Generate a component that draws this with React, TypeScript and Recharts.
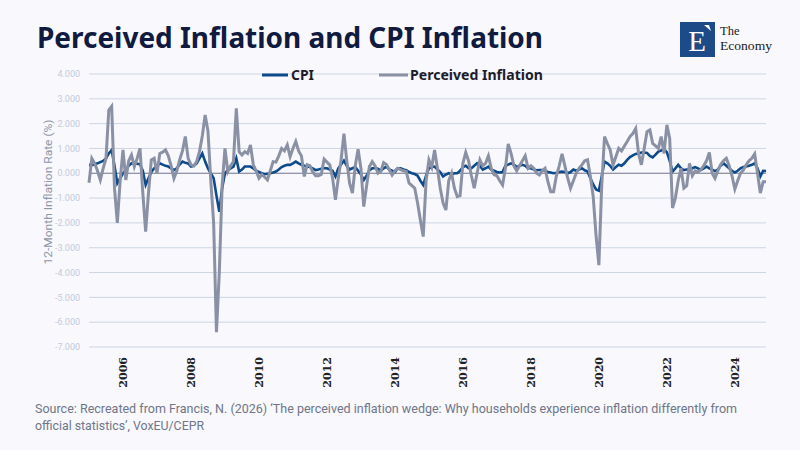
import React from 'react';
import { LineChart, Line, XAxis, YAxis, CartesianGrid, ReferenceLine } from 'recharts';

// monthly values, Jan 2005 .. Dec 2024, one row per year
const CPI = [
  0.34, 0.33, 0.36, 0.4, 0.45, 0.5, 0.6, 0.8, 0.94, 0.3, -0.4, -0.2,
  0.0, 0.13, 0.3, 0.4, 0.4, 0.38, 0.36, 0.1, -0.47, -0.2, 0.05, 0.2,
  0.3, 0.4, 0.35, 0.3, 0.27, 0.2, 0.13, 0.2, 0.35, 0.47, 0.42, 0.4,
  0.27, 0.3, 0.4, 0.6, 0.8, 0.47, 0.2, 0.0, -0.2, -0.9, -1.55, -0.6,
  0.0, 0.13, 0.2, 0.27, 0.6, 0.07, 0.15, 0.27, 0.27, 0.27, 0.2, 0.1,
  0.05, 0.0, -0.04, -0.02, 0.0, 0.03, 0.07, 0.15, 0.25, 0.3, 0.34, 0.34,
  0.4, 0.47, 0.4, 0.34, 0.3, 0.27, 0.25, 0.2, 0.13, 0.15, 0.18, 0.2,
  0.2, 0.15, 0.1, -0.13, 0.2, 0.35, 0.51, 0.3, 0.15, 0.2, 0.25, 0.1,
  -0.05, -0.27, -0.1, 0.13, 0.2, 0.2, 0.18, 0.1, 0.2, 0.27, 0.15, 0.1,
  0.05, 0.2, 0.2, 0.15, 0.12, 0.05, 0.0, -0.03, -0.1, -0.3, -0.47, -0.1,
  0.2, 0.25, 0.27, 0.15, 0.05, -0.13, -0.05, 0.0, -0.05, 0.0, 0.0, 0.1,
  0.25, 0.3, 0.2, 0.2, 0.3, 0.4, 0.3, 0.15, 0.2, 0.27, 0.15, 0.1,
  0.05, 0.03, 0.05, 0.3, 0.35, 0.4, 0.35, 0.25, 0.3, 0.34, 0.3, 0.2,
  0.2, 0.15, 0.12, 0.13, 0.13, 0.1, 0.05, 0.03, 0.0, 0.02, 0.05, 0.07,
  0.05, 0.0, 0.05, 0.15, 0.1, 0.15, 0.2, 0.12, 0.07, -0.2, -0.45, -0.65,
  -0.7, -0.13, 0.47, 0.4, 0.3, 0.15, 0.25, 0.34, 0.3, 0.4, 0.54, 0.65,
  0.72, 0.78, 0.8, 0.84, 0.84, 0.82, 0.7, 0.64, 0.75, 0.87, 0.92, 0.97,
  0.85, 0.5, 0.07, 0.2, 0.34, 0.2, 0.13, 0.15, 0.15, 0.2, 0.25, 0.2,
  0.13, 0.2, 0.27, 0.2, 0.15, 0.09, 0.15, 0.3, 0.4, 0.3, 0.2, 0.1,
  0.03, 0.1, 0.2, 0.25, 0.27, 0.3, 0.34, 0.4, 0.2, -0.13, 0.1, 0.09,
];

const PERCEIVED = [
  -0.38, 0.6, 0.4, 0.1, -0.27, 0.2, 0.6, 2.55, 2.7, -0.6, -2.0, -0.3,
  0.94, -0.27, 0.5, 0.74, 0.27, 0.6, 1.0, -0.8, -2.35, -0.8, 0.54, 0.6,
  0.0, 0.8, 0.85, 0.94, 0.7, 0.3, -0.2, 0.1, 0.54, 0.9, 1.48, 0.6,
  0.34, 0.3, 0.47, 0.87, 1.5, 2.35, 1.7, -0.3, -2.0, -6.4, -4.0, -0.5,
  1.0, 0.07, 0.3, 0.47, 2.62, 0.87, 0.74, 0.87, 0.8, 1.14, 0.34, 0.1,
  -0.2, -0.05, -0.15, -0.27, 0.1, 0.47, 0.45, 0.7, 1.0, 0.9, 1.14, 0.67,
  1.0, 1.28, 0.9, 0.7, -0.13, 0.34, 0.3, 0.05, -0.1, -0.1, -0.05, 0.57,
  0.45, 0.34, -0.2, -1.07, -0.2, 0.54, 1.6, 0.5, -0.4, -0.8, 0.3, 0.97,
  0.2, -1.34, -0.5, 0.27, 0.47, 0.3, 0.0, 0.07, 0.43, 0.35, 0.15, -0.07,
  0.1, 0.2, 0.15, 0.1, 0.07, -0.4, -0.5, -0.6, -1.2, -1.9, -2.55, -0.3,
  0.54, 0.25, 0.94, 0.2, -0.6, -1.2, -1.48, -0.3, 0.0, -0.6, -0.94, -0.9,
  0.4, 0.84, 0.5, -0.1, -0.6, 0.0, 0.54, 0.3, 0.4, 0.7, 0.2, -0.05,
  -0.1, -0.3, -0.47, 0.2, 1.18, 0.8, 0.3, 0.1, 0.3, 0.5, 0.7, 0.2,
  0.3, 0.2, 0.0, -0.07, 0.1, 0.2, -0.34, -0.74, -0.74, -0.1, 0.3, 0.78,
  0.3, -0.2, -0.6, -0.3, 0.0, 0.2, 0.34, 0.5, 0.54, -0.13, -0.94, -2.5,
  -3.7, -0.5, 1.48, 1.2, 0.94, 0.34, 0.67, 1.0, 0.9, 1.1, 1.28, 1.48,
  1.6, 1.8, 0.8, 0.34, 1.0, 1.68, 1.75, 1.2, 1.1, 1.0, 1.48, 0.8,
  1.95, 1.4, -1.4, -1.0, -0.3, 0.2, -0.6, -0.5, 0.4, -0.1, 0.1, 0.05,
  0.15, 0.3, 0.5, 0.84, 0.0, -0.2, 0.1, 0.35, 0.5, 0.6, 0.3, -0.1,
  -0.64, -0.3, 0.0, 0.13, 0.34, 0.5, 0.6, 0.78, 0.0, -0.8, -0.34, -0.34,
];

const START_YEAR = 2005;
const YEAR_TICKS = [2006, 2008, 2010, 2012, 2014, 2016, 2018, 2020, 2022, 2024];
const Y_TICKS = [-7, -6, -5, -4, -3, -2, -1, 0, 1, 2, 3, 4];

const data = CPI.map((v, i) => ({ t: START_YEAR + i / 12, cpi: v, perceived: PERCEIVED[i] }));

const BLUE = '#0d4a8c';
const GREY = '#8a91a5';

function YearTick(props: any) {
  const { x, y, payload } = props;
  return (
    <text
      transform={`translate(${x},${y}) rotate(-90)`}
      textAnchor="end"
      dy="0.36em"
      fontFamily="DejaVu Serif"
      fontWeight={700}
      fontSize={11}
      fill="#222"
    >
      {payload.value}
    </text>
  );
}

export default function App() {
  return (
    <div style={{ position: 'absolute', left: 0, top: 0, width: 800, height: 450, background: '#f8f8fd', overflow: 'hidden' }}>
      <LineChart
        width={800}
        height={450}
        data={data}
        margin={{ top: 74, right: 34, bottom: 53, left: 0 }}
        style={{ position: 'absolute', left: 0, top: 0 }}
      >
        <CartesianGrid vertical={false} stroke="#cdd5e3" strokeWidth={1} />
        <XAxis
          dataKey="t"
          type="number"
          domain={[START_YEAR, START_YEAR + (CPI.length - 1) / 12]}
          ticks={YEAR_TICKS}
          axisLine={false}
          tickLine={false}
          tickSize={0}
          tickMargin={10}
          height={50}
          tick={<YearTick />}
        />
        <YAxis
          domain={[-7, 4]}
          ticks={Y_TICKS}
          width={89}
          axisLine={false}
          tickLine={false}
          tickSize={0}
          tickMargin={9}
          tickFormatter={(v: number) => v.toFixed(3)}
          tick={{ fontSize: 9, fill: '#c3cbdb', fontFamily: 'Roboto' }}
        />
        <ReferenceLine y={0} stroke="#7c8295" strokeWidth={1} />
        <Line type="linear" dataKey="cpi" stroke={BLUE} strokeWidth={2.6} dot={false} isAnimationActive={false} />
        <Line type="linear" dataKey="perceived" stroke={GREY} strokeWidth={3} dot={false} isAnimationActive={false} />
      </LineChart>

      <svg width={800} height={450} style={{ position: 'absolute', left: 0, top: 0, pointerEvents: 'none' }}>
        <text x={37} y={48} fontFamily="Noto Sans" fontWeight={700} fontSize={29} fill="#111a3f" textLength={506} lengthAdjust="spacingAndGlyphs">
          Perceived Inflation and CPI Inflation
        </text>

        <rect x={680} y={22} width={35} height={35} fill="#1d4b88" />
        <text x={697} y={51} textAnchor="middle" fontFamily="Liberation Serif" fontSize={29} fill="#fff">E</text>
        <polygon points="704,25 709,25 711,31" fill="#fff" />
        <text x={720} y={35} fontFamily="Liberation Serif" fontSize={12.5} fill="#1a1a1a">The</text>
        <text x={720} y={50} fontFamily="Liberation Serif" fontSize={12.5} fill="#1a1a1a" textLength={52} lengthAdjust="spacingAndGlyphs">Economy</text>

        <line x1={262} y1={75} x2={288} y2={75} stroke={BLUE} strokeWidth={3} />
        <text x={291} y={80} fontFamily="Noto Sans" fontWeight={700} fontSize={14} fill="#1c1c2c" textLength={23} lengthAdjust="spacingAndGlyphs">CPI</text>
        <line x1={379} y1={75} x2={408} y2={75} stroke={GREY} strokeWidth={3} />
        <text x={410} y={80} fontFamily="Noto Sans" fontWeight={700} fontSize={14} fill="#1c1c2c" textLength={133} lengthAdjust="spacingAndGlyphs">Perceived Inflation</text>

        <text
          transform="translate(52,192) rotate(-90)"
          textAnchor="middle"
          fontFamily="Roboto"
          fontSize={11.5}
          fill="#8f96a8"
          textLength={145}
          lengthAdjust="spacingAndGlyphs"
        >
          12-Month Inflation Rate (%)
        </text>

        <text x={35} y={413} fontFamily="Roboto" fontSize={13} fill="#6f7688" textLength={702} lengthAdjust="spacingAndGlyphs">
          Source: Recreated from Francis, N. (2026) ‘The perceived inflation wedge: Why households experience inflation differently from
        </text>
        <text x={35} y={430} fontFamily="Roboto" fontSize={13} fill="#6f7688" textLength={169} lengthAdjust="spacingAndGlyphs">
          official statistics’, VoxEU/CEPR
        </text>
      </svg>
    </div>
  );
}
